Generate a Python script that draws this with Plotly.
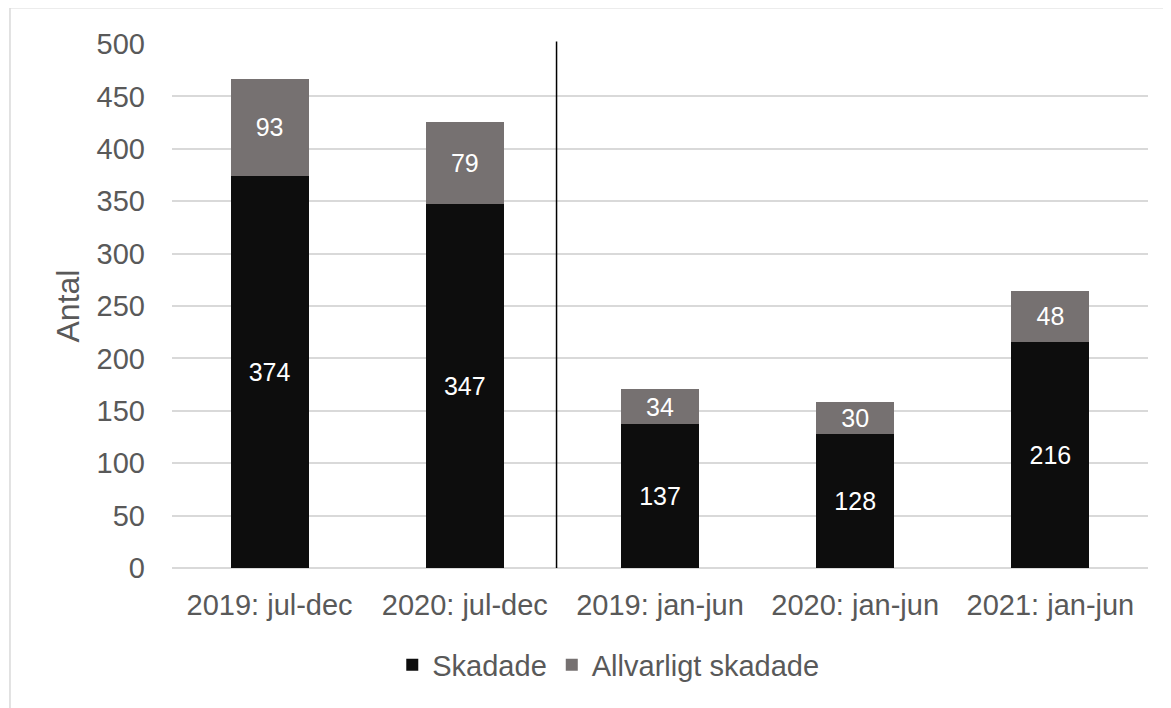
import plotly.graph_objects as go

categories = ["2019: jul-dec", "2020: jul-dec", "2019: jan-jun", "2020: jan-jun", "2021: jan-jun"]
skadade = [374, 347, 137, 128, 216]
allvarligt = [93, 79, 34, 30, 48]
y_ticks = [0, 50, 100, 150, 200, 250, 300, 350, 400, 450, 500]

FONT = "Liberation Sans, Arial, sans-serif"
TXT = "#595959"
FS = 29

fig = go.Figure()
fig.add_trace(go.Bar(
    x=categories, y=skadade, name="Skadade",
    marker=dict(color="#0d0d0d", line=dict(width=0)),
    text=skadade, textposition="inside", insidetextanchor="middle",
    textangle=0, constraintext="none",
    textfont=dict(color="white", size=25, family=FONT),
))
fig.add_trace(go.Bar(
    x=categories, y=allvarligt, name="Allvarligt skadade",
    marker=dict(color="#767171", line=dict(width=0)),
    text=allvarligt, textposition="inside", insidetextanchor="middle",
    textangle=0, constraintext="none",
    textfont=dict(color="white", size=25, family=FONT),
))

fig.update_layout(
    barmode="stack", bargap=0.6,
    width=1171, height=708,
    margin=dict(l=164, r=31, t=36, b=148),
    paper_bgcolor="white", plot_bgcolor="white",
    font=dict(family=FONT, color=TXT, size=FS),
    showlegend=True,
    legend=dict(orientation="h", x=0.447, xanchor="center", y=-0.185, yanchor="middle",
                font=dict(size=FS, color=TXT), traceorder="normal", itemwidth=30),
    xaxis=dict(showgrid=False, ticks="", showline=False, ticklabelstandoff=17,
               tickfont=dict(size=FS, color=TXT)),
    yaxis=dict(range=[0, 500], tickvals=y_ticks, showgrid=True, gridcolor="#d9d9d9",
               gridwidth=1.5, zeroline=True, zerolinecolor="#d9d9d9", zerolinewidth=1.5,
               ticks="", showline=False, ticklabelstandoff=26,
               tickfont=dict(size=FS, color=TXT),
               title=dict(text="Antal", font=dict(size=32, color=TXT), standoff=7)),
    shapes=[
        dict(type="line", xref="x", yref="paper", x0=1.47, x1=1.47, y0=0, y1=1.005,
             line=dict(color="black", width=1.5), layer="above"),
        dict(type="rect", xref="paper", yref="paper", x0=-0.166, x1=1.2, y0=-0.5, y1=1.069,
             line=dict(color="#d9d9d9", width=1.5), fillcolor="rgba(0,0,0,0)", layer="below"),
    ],
)

fig.write_html("out.html")
